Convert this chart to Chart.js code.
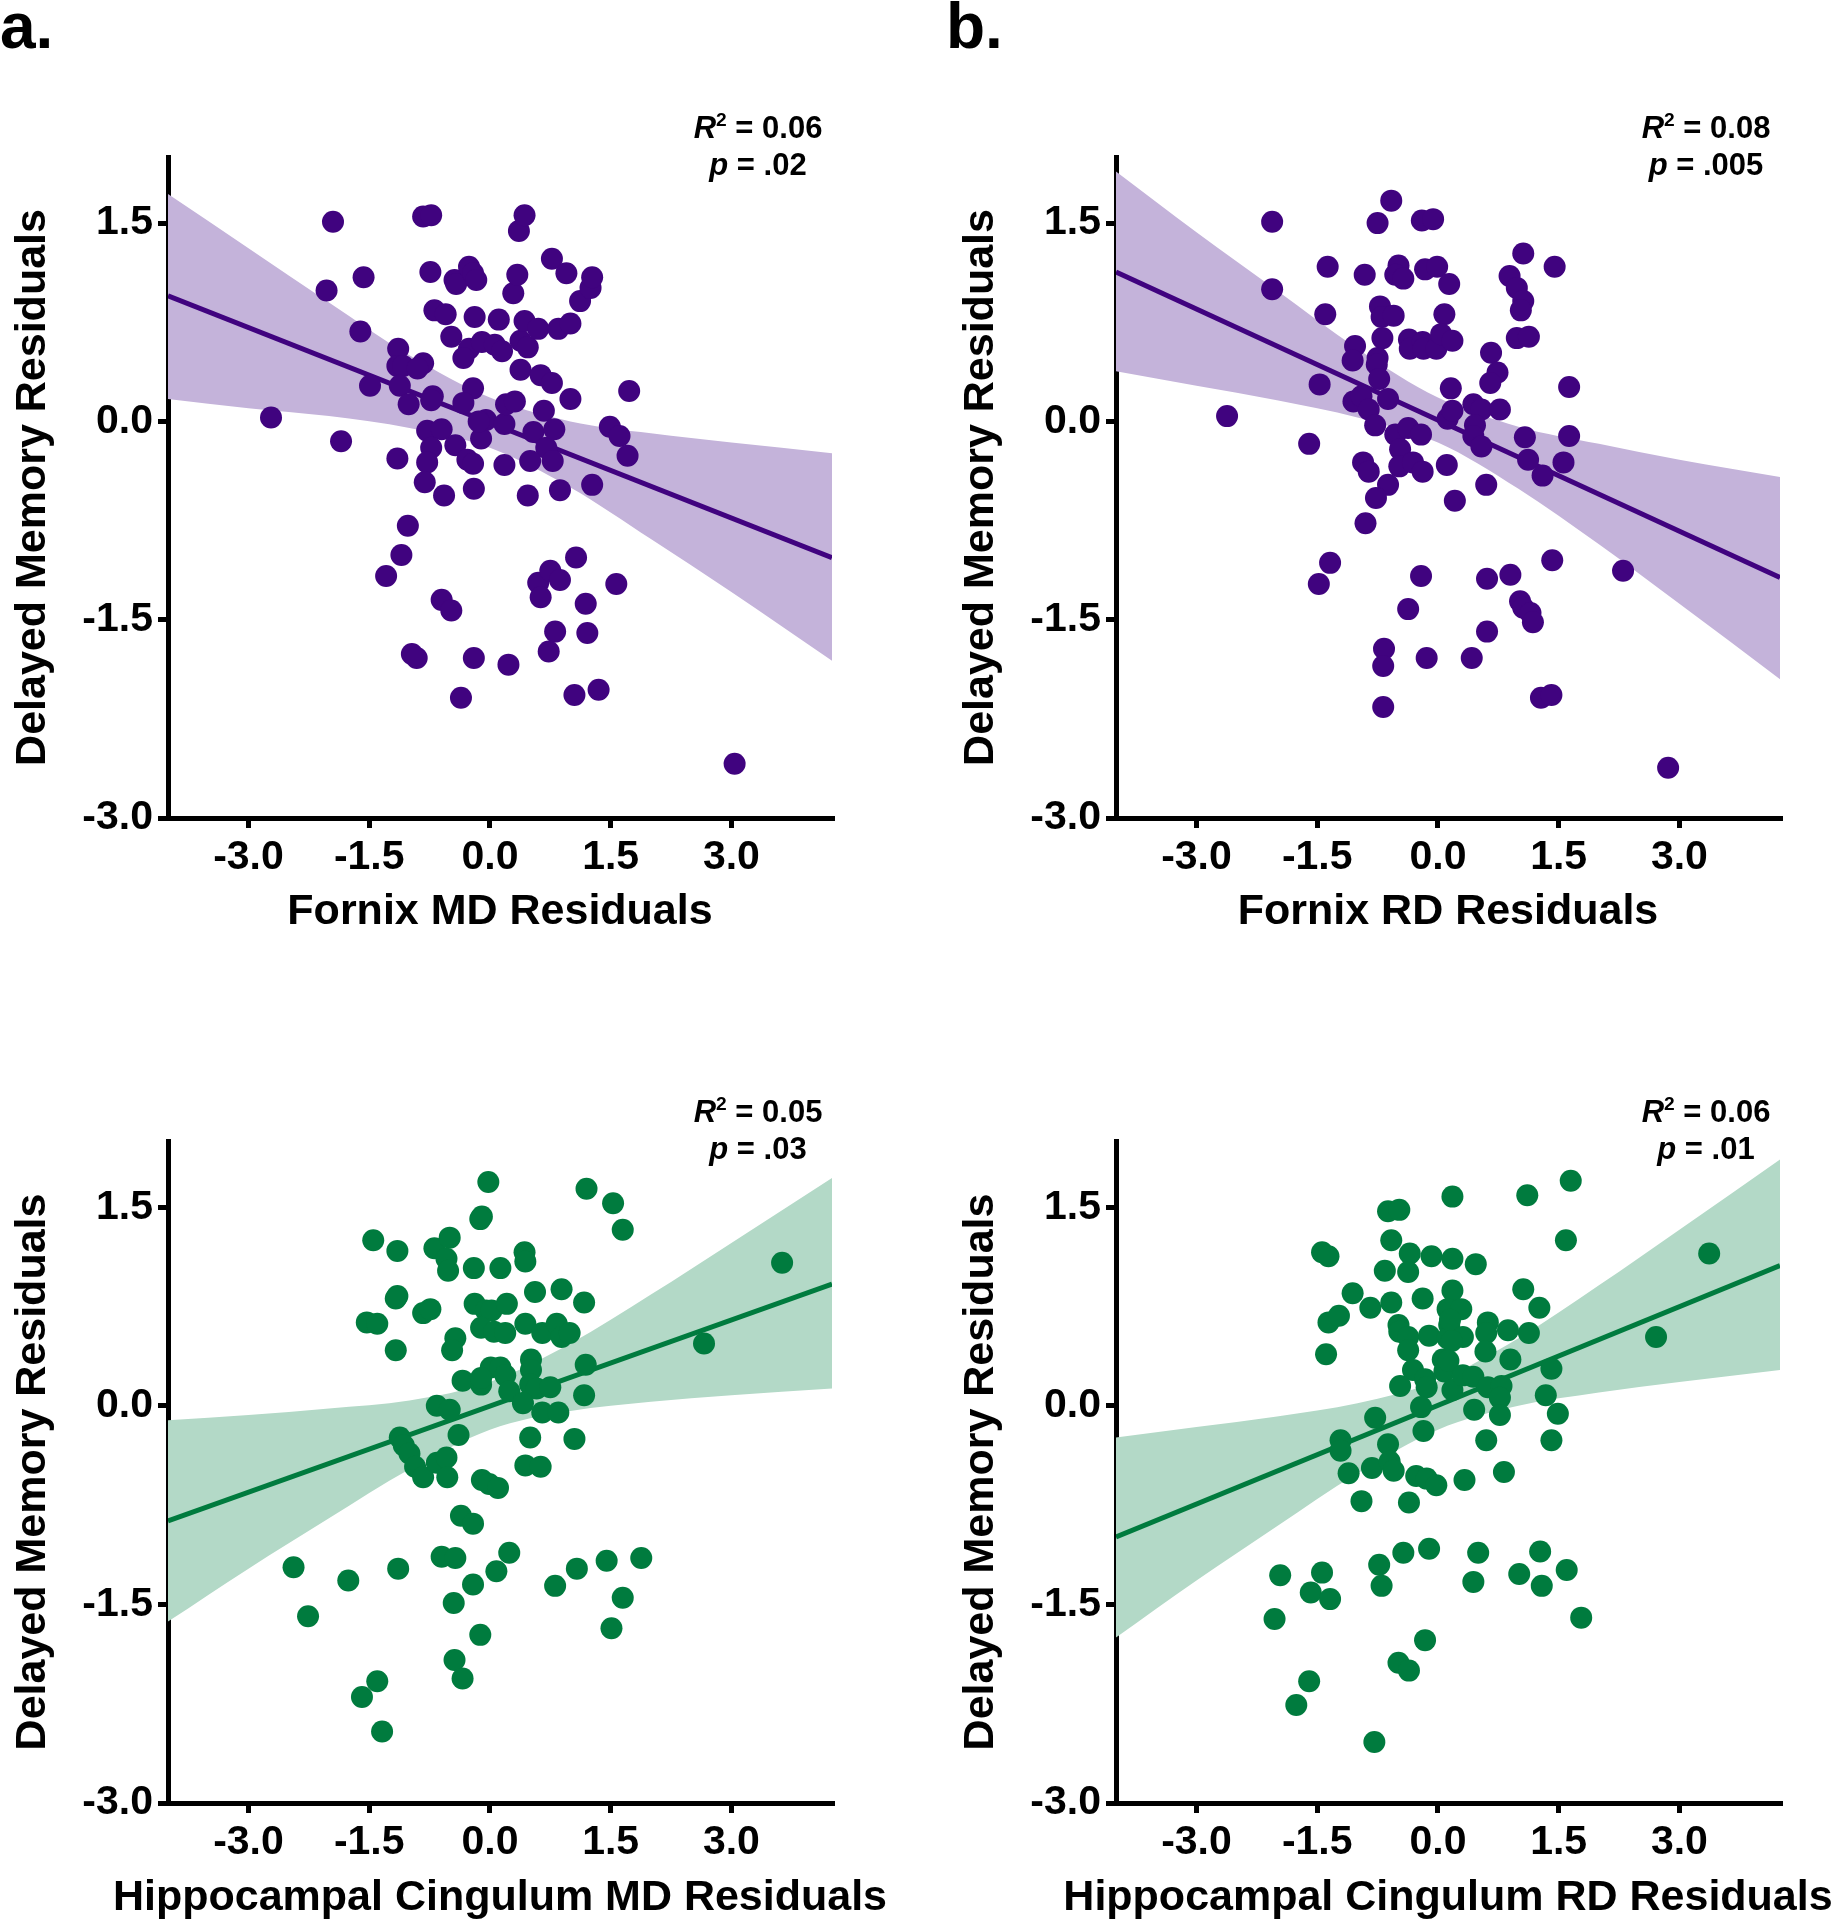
<!DOCTYPE html>
<html>
<head>
<meta charset="utf-8">
<script src="https://cdn.jsdelivr.net/npm/chart.js@4.4.1/dist/chart.umd.min.js"></script>
<style>
  body { margin: 0; background: #fff; }
  #page { position: relative; width: 1831px; height: 1920px; overflow: hidden;
          font-family: 'Liberation Sans', Arial, sans-serif; color: #000; }
  canvas { position: absolute; }
  .tag { position: absolute; font-weight: bold; font-size: 64px; line-height: 64px; }
  .stat { position: absolute; width: 240px; text-align: center; font-weight: bold;
          font-size: 31px; line-height: 37px; }
  .stat sup { font-size: 0.62em; line-height: 0; vertical-align: 0.6em; }
  .xname { position: absolute; width: 900px; text-align: center; font-weight: bold;
           font-size: 43px; line-height: 50px; white-space: nowrap; }
</style>
</head>
<body>
<div id="page">
  <div class="tag" style="left:0;top:-6px">a.</div>
  <div class="tag" style="left:946px;top:-6px">b.</div>

  <canvas id="panelA" width="900" height="960" style="left:0;top:0"></canvas>
  <canvas id="panelB" width="883" height="960" style="left:948px;top:0"></canvas>
  <canvas id="panelC" width="900" height="940" style="left:0;top:984px"></canvas>
  <canvas id="panelD" width="883" height="940" style="left:948px;top:984px"></canvas>

  <div class="stat" style="left:638px;top:109px"><i>R</i><sup>2</sup> = 0.06<br><i>p</i> = .02</div>
  <div class="stat" style="left:1586px;top:109px"><i>R</i><sup>2</sup> = 0.08<br><i>p</i> = .005</div>
  <div class="stat" style="left:638px;top:1093px"><i>R</i><sup>2</sup> = 0.05<br><i>p</i> = .03</div>
  <div class="stat" style="left:1586px;top:1093px"><i>R</i><sup>2</sup> = 0.06<br><i>p</i> = .01</div>

  <!-- these two names are wider than the plot, so they are not axis titles -->
  <div class="xname" style="left:50px;top:1870px">Hippocampal Cingulum MD Residuals</div>
  <div class="xname" style="left:998px;top:1870px">Hippocampal Cingulum RD Residuals</div>
</div>

<script>
// axis ticks shared by the four panels
const xTicks = [-3, -1.5, 0, 1.5, 3];
const yTicks = [-3, -1.5, 0, 1.5];

const fitX = [-4, 4.25];
const bandX = [-4, -3, -2, -1, 0, 1, 2, 3, 4.25];

// a. Fornix MD
const fornixMD = [
  [-2.72,0.03],[-1.95,1.51],[-2.03,0.99],[-1.85,-0.15],[-1.57,1.09],[-1.61,0.68],[-1.49,0.27],
  [-1.14,0.55],[-1.15,0.42],[-1.08,0.42],[-1.12,0.27],[-1.01,0.13],[-1.15,-0.28],[-1.02,-0.79],
  [-1.10,-1.01],[-1.29,-1.17],[-0.97,-1.76],[-0.91,-1.79],[-0.83,1.55],[-0.73,1.56],[-0.74,1.13],
  [-0.83,0.44],[-0.90,0.40],[-0.69,0.84],[-0.55,0.81],[-0.71,0.19],[-0.73,0.16],[-0.78,-0.07],
  [-0.60,-0.06],[-0.73,-0.20],[-0.78,-0.31],[-0.81,-0.46],[-0.57,-0.56],[-0.60,-1.35],[-0.48,-1.43],
  [-0.44,1.07],[-0.42,1.04],[-0.26,1.17],[-0.21,1.12],[-0.17,1.07],[-0.48,0.64],[-0.19,0.79],
  [-0.26,0.55],[-0.33,0.48],[-0.10,0.60],[0.06,0.58],[0.15,0.53],[0.11,0.77],[-0.21,0.25],
  [-0.33,0.14],[-0.43,-0.18],[-0.28,-0.29],[-0.21,-0.32],[-0.11,-0.13],[-0.05,0.01],[-0.14,0.00],
  [-0.20,-0.51],[-0.36,-2.09],[-0.20,-1.79],[0.23,-1.84],[0.18,-0.02],[0.20,0.13],[0.31,0.15],
  [0.18,-0.33],[0.29,0.97],[0.34,1.11],[0.36,1.44],[0.43,1.56],[0.38,0.61],[0.47,0.56],[0.38,0.39],
  [0.43,0.76],[0.60,0.70],[0.63,0.35],[0.77,0.29],[0.67,0.08],[0.54,-0.08],[0.70,-0.20],[0.78,-0.30],
  [0.80,-0.06],[0.50,-0.30],[0.47,-0.56],[0.87,-0.52],[0.77,1.23],[0.95,1.12],[0.85,0.70],[1.00,0.74],
  [1.12,0.91],[1.25,1.01],[1.27,1.09],[1.00,0.17],[1.27,-0.48],[0.60,-1.22],[0.75,-1.13],[0.87,-1.20],
  [0.63,-1.33],[1.07,-1.03],[0.81,-1.59],[0.73,-1.74],[1.19,-1.38],[1.21,-1.60],[1.05,-2.07],
  [1.35,-2.03],[1.49,-0.04],[1.61,-0.11],[1.71,-0.26],[1.73,0.23],[1.57,-1.23],[3.04,-2.59]
];
const fornixMDFit = [0.95, -1.03];
const fornixMDUpper = [1.72, 1.31, 0.90, 0.50, 0.18, 0.00, -0.09, -0.16, -0.24];
const fornixMDLower = [0.17, 0.10, 0.04, -0.05, -0.20, -0.50, -0.89, -1.29, -1.81];

// b. Fornix RD
const fornixRD = [
  [-2.62,0.04],[-2.06,1.51],[-2.06,1.00],[-1.60,-0.17],[-1.47,0.28],[-1.37,1.17],[-1.40,0.81],
  [-1.34,-1.07],[-1.48,-1.23],[-0.91,1.11],[-0.75,1.50],[-0.58,1.67],[-0.20,1.52],[-0.06,1.53],
  [-0.49,1.18],[-0.53,1.11],[-0.43,1.08],[-0.16,1.15],[-0.01,1.17],[0.14,1.04],[-0.72,0.87],
  [-0.70,0.79],[-0.55,0.80],[0.08,0.81],[-0.69,0.63],[-1.03,0.57],[-1.06,0.46],[-0.75,0.48],
  [-0.76,0.43],[-0.73,0.32],[-0.36,0.62],[-0.35,0.55],[-0.19,0.60],[-0.18,0.55],[-0.02,0.55],
  [0.04,0.66],[0.18,0.61],[0.16,0.25],[-1.05,0.15],[-0.95,0.19],[-0.86,0.09],[-0.62,0.17],
  [-0.78,-0.03],[-0.53,-0.10],[-0.37,-0.05],[-0.21,-0.10],[-0.47,-0.21],[-0.48,-0.34],[-0.31,-0.31],
  [-0.19,-0.38],[-0.93,-0.31],[-0.86,-0.38],[-0.62,-0.48],[-0.77,-0.58],[-0.90,-0.77],[0.12,0.02],
  [0.18,0.08],[0.11,-0.33],[0.21,-0.60],[-0.21,-1.17],[-0.37,-1.42],[-0.67,-1.72],[-0.68,-1.85],
  [-0.68,-2.16],[-0.14,-1.79],
  [1.06,1.27],[1.45,1.17],[0.89,1.10],[0.98,1.01],[1.06,0.91],[1.03,0.84],[0.98,0.63],[1.13,0.64],
  [0.66,0.52],[0.74,0.37],[0.65,0.29],[0.44,0.13],[0.54,0.09],[0.77,0.09],[0.46,-0.03],[0.44,-0.11],
  [0.54,-0.19],[1.63,0.26],[1.63,-0.11],[1.08,-0.12],[1.12,-0.29],[1.56,-0.31],[1.30,-0.41],
  [0.60,-0.48],[1.42,-1.05],[2.30,-1.13],[0.61,-1.19],[0.90,-1.16],[1.02,-1.36],[1.06,-1.41],
  [1.15,-1.45],[1.18,-1.52],[0.61,-1.59],[0.42,-1.79],[1.28,-2.09],[1.41,-2.07],[2.86,-2.62]
];
const fornixRDFit = [1.13, -1.18];
const fornixRDUpper = [1.89, 1.43, 0.99, 0.55, 0.18, -0.04, -0.17, -0.29, -0.42];
const fornixRDLower = [0.38, 0.27, 0.16, 0.03, -0.16, -0.51, -0.93, -1.38, -1.95];

// c. Hippocampal cingulum MD
const cingulumMD = [
  [-0.02,1.69],[-0.10,1.43],[-0.12,1.41],[-1.45,1.25],[-1.15,1.17],[-0.69,1.19],[-0.50,1.27],
  [-0.54,1.11],[-0.52,1.02],[-0.20,1.04],[0.13,1.04],[-1.15,0.83],[-1.17,0.81],[-0.83,0.70],
  [-0.74,0.73],[-1.53,0.63],[-1.40,0.62],[-1.17,0.42],[-0.43,0.51],[-0.47,0.42],[-0.19,0.77],
  [-0.05,0.72],[0.02,0.72],[0.21,0.77],[-0.11,0.59],[0.05,0.56],[0.19,0.55],[0.01,0.29],[0.13,0.29],
  [0.19,0.23],[-0.34,0.19],[-0.11,0.16],[-0.11,0.21],[0.24,0.11],[-0.66,0.00],[-0.50,-0.03],
  [-0.39,-0.22],[-1.12,-0.24],[-1.07,-0.30],[-1.00,-0.36],[-0.93,-0.46],[-0.83,-0.54],[-0.66,-0.43],
  [-0.54,-0.39],[-0.53,-0.54],[-0.10,-0.56],[-0.01,-0.59],[0.10,-0.62],[-0.36,-0.83],[-0.21,-0.89],
  [-2.44,-1.22],[-1.76,-1.32],[-1.14,-1.23],[-2.26,-1.59],[-0.60,-1.14],[-0.43,-1.15],[0.24,-1.11],
  [0.08,-1.25],[-0.21,-1.35],[-0.45,-1.49],[-0.12,-1.73],[-0.44,-1.92],[-0.34,-2.06],[-1.40,-2.08],
  [-1.59,-2.20],[-1.34,-2.46],
  [1.20,1.64],[1.53,1.53],[1.65,1.33],[0.43,1.16],[0.44,1.09],[0.56,0.86],[0.89,0.88],[1.17,0.78],
  [0.44,0.62],[0.65,0.55],[0.83,0.62],[0.89,0.52],[0.99,0.55],[0.51,0.35],[0.51,0.27],[1.19,0.31],
  [0.50,0.16],[0.58,0.13],[0.75,0.14],[0.41,0.02],[0.65,-0.05],[0.85,-0.05],[1.17,0.08],[0.50,-0.24],
  [1.05,-0.25],[0.44,-0.45],[0.63,-0.46],[0.81,-1.36],[1.08,-1.23],[1.45,-1.17],[1.88,-1.15],
  [1.65,-1.45],[1.51,-1.68],[2.66,0.47],[3.63,1.08]
];
const cingulumMDFit = [-0.87, 0.92];
const cingulumMDUpper = [-0.11, -0.07, -0.02, 0.04, 0.18, 0.47, 0.84, 1.23, 1.72];
const cingulumMDLower = [-1.63, -1.23, -0.85, -0.48, -0.18, -0.04, 0.03, 0.08, 0.13];

// d. Hippocampal cingulum RD
const cingulumRD = [
  [-0.62,1.47],[-0.48,1.48],[0.18,1.58],[-0.58,1.25],[-1.44,1.16],[-1.36,1.13],[-0.35,1.15],
  [-0.08,1.13],[0.18,1.11],[-0.66,1.02],[-0.37,1.01],[-1.06,0.85],[-0.84,0.74],[-0.58,0.78],
  [-0.19,0.81],[0.18,0.87],[-1.36,0.63],[-1.23,0.68],[-1.39,0.39],[-0.49,0.61],[-0.48,0.56],
  [-0.37,0.52],[-0.37,0.42],[-0.11,0.53],[0.12,0.73],[0.14,0.61],[0.12,0.51],[0.06,0.35],[0.08,0.26],
  [-0.31,0.27],[-0.16,0.20],[-0.14,0.14],[-0.47,0.15],[0.18,0.12],[-0.21,-0.01],[-0.78,-0.09],
  [-1.21,-0.26],[-1.21,-0.34],[-0.62,-0.29],[-0.18,-0.19],[-1.11,-0.51],[-0.82,-0.47],[-0.60,-0.42],
  [-0.55,-0.49],[-0.27,-0.53],[-0.14,-0.55],[-0.02,-0.60],[-0.95,-0.72],[-0.36,-0.73],[-1.96,-1.28],
  [-1.44,-1.26],[-1.58,-1.41],[-1.34,-1.46],[-2.03,-1.61],[-0.73,-1.20],[-0.43,-1.11],[-0.11,-1.08],
  [-0.70,-1.36],[-0.16,-1.77],[-0.49,-1.94],[-0.36,-2.00],[-1.60,-2.08],[-1.76,-2.26],[-0.79,-2.54],
  [1.65,1.70],[1.11,1.59],[1.59,1.25],[3.37,1.15],[0.47,1.07],[1.06,0.88],[1.26,0.74],[0.29,0.73],
  [0.15,0.65],[0.62,0.63],[0.60,0.55],[0.87,0.57],[1.13,0.55],[0.31,0.52],[0.17,0.49],[0.59,0.41],
  [0.90,0.35],[2.71,0.52],[1.41,0.28],[0.13,0.34],[0.31,0.23],[0.44,0.22],[0.62,0.14],[0.79,0.15],
  [0.77,0.06],[1.34,0.08],[0.45,-0.03],[0.77,-0.07],[1.49,-0.06],[0.60,-0.26],[1.41,-0.26],
  [0.82,-0.50],[0.33,-0.56],[0.50,-1.11],[1.27,-1.10],[0.44,-1.33],[1.01,-1.27],[1.29,-1.36],
  [1.60,-1.24],[1.78,-1.60]
];
const cingulumRDFit = [-0.99, 1.06];
const cingulumRDUpper = [-0.24, -0.16, -0.08, 0.02, 0.19, 0.51, 0.91, 1.33, 1.86];
const cingulumRDLower = [-1.75, -1.32, -0.91, -0.51, -0.18, 0.00, 0.10, 0.18, 0.27];

const purple = { dot: '#40037f', band: '#c4b3da' };
const green = { dot: '#007b3e', band: '#b3d9c7' };

Chart.defaults.font.family = "'Liberation Sans', Arial, sans-serif";
Chart.defaults.color = '#000';

// xTitle null -> the name is written in the page instead
function drawPanel(id, pts, fit, upper, lower, col, xTitle, xSpace, rightPad) {
  new Chart(document.getElementById(id), {
    type: 'scatter',
    data: {
      datasets: [
        {
          data: pts.map(p => ({ x: p[0], y: p[1] })),
          backgroundColor: col.dot,
          borderWidth: 0,
          pointRadius: 11,
          order: 0
        },
        {
          type: 'line',
          data: fitX.map((x, i) => ({ x: x, y: fit[i] })),
          borderColor: col.dot,
          borderWidth: 5,
          pointRadius: 0,
          fill: false,
          order: 1
        },
        {
          type: 'line',
          data: bandX.map((x, i) => ({ x: x, y: upper[i] })),
          borderColor: 'rgba(0,0,0,0)',
          borderWidth: 0,
          pointRadius: 0,
          cubicInterpolationMode: 'monotone',
          fill: false,
          order: 2
        },
        {
          type: 'line',
          data: bandX.map((x, i) => ({ x: x, y: lower[i] })),
          borderColor: 'rgba(0,0,0,0)',
          borderWidth: 0,
          pointRadius: 0,
          cubicInterpolationMode: 'monotone',
          backgroundColor: col.band,
          fill: '-1',
          order: 3
        }
      ]
    },
    options: {
      responsive: false,
      animation: false,
      events: [],
      layout: { padding: { top: 157, right: rightPad, bottom: 0, left: 0 } },
      plugins: { legend: { display: false }, tooltip: { enabled: false } },
      scales: {
        x: {
          type: 'linear',
          min: -4,
          max: 4.25,
          afterBuildTicks: s => { s.ticks = xTicks.map(v => ({ value: v })); },
          afterFit: s => { s.height = xSpace; },
          border: { color: '#000', width: 5 },
          grid: { drawOnChartArea: false, color: '#000', lineWidth: 5, tickLength: 10 },
          ticks: {
            color: '#000', padding: 5, autoSkip: false, maxRotation: 0,
            font: { size: 41, weight: 'bold' },
            callback: v => Number(v).toFixed(1)
          },
          title: {
            display: !!xTitle, text: xTitle || '', color: '#000',
            font: { size: 43, weight: 'bold' },
            padding: { top: 0, bottom: 22 }
          }
        },
        y: {
          type: 'linear',
          min: -3,
          max: 2,
          afterBuildTicks: s => { s.ticks = yTicks.map(v => ({ value: v })); },
          afterFit: s => { s.width = 168; },
          border: { color: '#000', width: 5 },
          grid: { drawOnChartArea: false, color: '#000', lineWidth: 5, tickLength: 10 },
          ticks: {
            color: '#000', padding: 5, autoSkip: false,
            font: { size: 41, weight: 'bold' },
            callback: v => Number(v).toFixed(1)
          },
          title: {
            display: true, text: 'Delayed Memory Residuals', color: '#000',
            font: { size: 43, weight: 'bold' },
            padding: { top: 7, bottom: 0 }
          }
        }
      }
    }
  });
}

drawPanel('panelA', fornixMD, fornixMDFit, fornixMDUpper, fornixMDLower, purple,
  'Fornix MD Residuals', 142, 68);
drawPanel('panelB', fornixRD, fornixRDFit, fornixRDUpper, fornixRDLower, purple,
  'Fornix RD Residuals', 142, 51);
drawPanel('panelC', cingulumMD, cingulumMDFit, cingulumMDUpper, cingulumMDLower, green,
  null, 121, 68);
drawPanel('panelD', cingulumRD, cingulumRDFit, cingulumRDUpper, cingulumRDLower, green,
  null, 121, 51);
</script>
</body>
</html>
